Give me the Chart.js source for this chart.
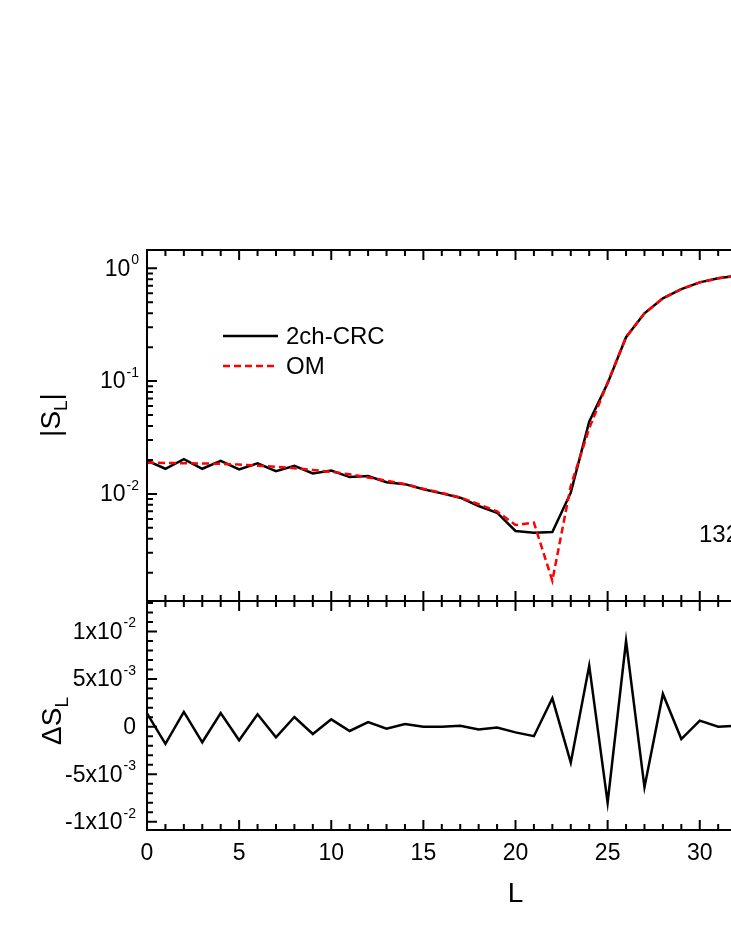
<!DOCTYPE html>
<html>
<head>
<meta charset="utf-8">
<script src="https://cdn.jsdelivr.net/npm/chart.js@4.4.1/dist/chart.umd.min.js"></script>
<style>
    html, body { margin: 0; padding: 0; background: #fff; overflow: hidden; }
    #wrap { width: 900px; height: 946px; }
</style>
</head>
<body>
<div id="wrap"><canvas id="grafico" width="900" height="946"></canvas></div>
<script>
// datos
let L = [0, 1, 2, 3, 4, 5, 6, 7, 8, 9, 10, 11, 12, 13, 14, 15, 16, 17, 18, 19, 20,
    21, 22, 23, 24, 25, 26, 27, 28, 29, 30, 31, 32, 33]
let crc = [0.0197, 0.0167, 0.0203, 0.0167, 0.0196, 0.0165, 0.0187, 0.0159, 0.0177, 0.0152, 0.0161,
    0.0141, 0.0144, 0.0127, 0.0122, 0.0110, 0.0101, 0.00925, 0.00781, 0.00681, 0.00469,
    0.00453, 0.00459, 0.01025, 0.0437, 0.0955, 0.245, 0.399, 0.542, 0.655, 0.751, 0.815, 0.86, 0.89]
let om = [0.0189, 0.0188, 0.0187, 0.0186, 0.0185, 0.0182, 0.0178, 0.0174, 0.0169, 0.0163, 0.0157,
    0.0149, 0.0140, 0.0131, 0.0122, 0.0111, 0.0102, 0.0093, 0.0081, 0.0070, 0.0053,
    0.00556, 0.0017, 0.0118, 0.038, 0.097, 0.245, 0.399, 0.542, 0.655, 0.751, 0.815, 0.86, 0.89]
let deltaS = [0.0014, -0.0018, 0.00155, -0.00164, 0.00144, -0.00143, 0.0013, -0.00112, 0.00102, -0.00077, 0.00077,
    -0.00045, 0.00049, -0.00021, 0.00028, 0, 0, 0.0001, -0.0003, -0.0001, -0.0006,
    -0.001, 0.00298, -0.00378, 0.00641, -0.00799, 0.0090, -0.00637, 0.00344, -0.0013, 0.00063, 0, 0.0001]

let ticksLog = [1, 0.1, 0.01]
let expLog = ['0', '-1', '-2']
let ticksDelta = [0.01, 0.005, 0, -0.005, -0.01]
let baseDelta = ['1x10', '5x10', '0', '-5x10', '-1x10']
let expDelta = ['-2', '-3', '', '-3', '-2']

const fuente = '"Liberation Sans", Arial, sans-serif'

function etiquetaPotencia(ctx, base, exp, xDer, yMed) {
    ctx.font = '23px ' + fuente
    let wBase = ctx.measureText(base).width
    ctx.font = '14px ' + fuente
    let wExp = exp ? ctx.measureText(exp).width + 1 : 0
    let x0 = xDer - wBase - wExp
    ctx.textAlign = 'left'
    ctx.textBaseline = 'middle'
    ctx.font = '23px ' + fuente
    ctx.fillText(base, x0, yMed)
    if (exp) {
        ctx.font = '14px ' + fuente
        ctx.fillText(exp, x0 + wBase + 1, yMed - 9)
    }
}

function tituloSub(ctx, antes, sub, despues, xBase, yCentro) {
    ctx.save()
    ctx.translate(xBase, yCentro)
    ctx.rotate(-Math.PI / 2)
    ctx.textBaseline = 'alphabetic'
    ctx.textAlign = 'left'
    ctx.font = '28px ' + fuente
    let w1 = ctx.measureText(antes).width
    let w3 = ctx.measureText(despues).width
    ctx.font = '19px ' + fuente
    let w2 = ctx.measureText(sub).width
    let x = -(w1 + w2 + w3) / 2
    ctx.font = '28px ' + fuente
    ctx.fillText(antes, x, 0)
    ctx.font = '19px ' + fuente
    ctx.fillText(sub, x + w1, 7)
    ctx.font = '28px ' + fuente
    ctx.fillText(despues, x + w1 + w2, 0)
    ctx.restore()
}

const ejes = {
    id: 'ejes',
    afterDraw(chart) {
        let ctx = chart.ctx
        let sx = chart.scales.x, sy = chart.scales.y, sd = chart.scales.y2
        ctx.save()
        ctx.strokeStyle = '#000'
        ctx.fillStyle = '#000'
        ctx.lineWidth = 2
        ctx.strokeRect(sx.left, sy.top, sx.right - sx.left, sy.bottom - sy.top)
        ctx.strokeRect(sx.left, sd.top, sx.right - sx.left, sd.bottom - sd.top)

        ctx.beginPath()
        for (let v = 0; v <= 40; v++) {
            let px = sx.getPixelForValue(v)
            let t = v % 5 === 0 ? 10 : 6
            ctx.moveTo(px, sy.top); ctx.lineTo(px, sy.top + t)
            ctx.moveTo(px, sy.bottom); ctx.lineTo(px, sy.bottom - t)
            ctx.moveTo(px, sd.top); ctx.lineTo(px, sd.top + t)
            ctx.moveTo(px, sd.bottom); ctx.lineTo(px, sd.bottom - t)
        }
        for (let d = -3; d <= 0; d++) {
            for (let m = 1; m <= 9; m++) {
                let v = m * Math.pow(10, d)
                if (v < sy.min || v > sy.max) continue
                let py = sy.getPixelForValue(v)
                ctx.moveTo(sx.left, py); ctx.lineTo(sx.left + (m === 1 ? 10 : 6), py)
            }
        }
        for (let k = -10; k <= 13; k++) {
            let py = sd.getPixelForValue(k * 0.001)
            ctx.moveTo(sx.left, py); ctx.lineTo(sx.left + (k % 5 === 0 ? 10 : 6), py)
        }
        ctx.stroke()

        for (let i = 0; i < ticksLog.length; i++) {
            etiquetaPotencia(ctx, '10', expLog[i], 139, sy.getPixelForValue(ticksLog[i]) + 1)
        }
        for (let i = 0; i < ticksDelta.length; i++) {
            etiquetaPotencia(ctx, baseDelta[i], expDelta[i], 136, sd.getPixelForValue(ticksDelta[i]) + 1)
        }

        tituloSub(ctx, '|S', 'L', '|', 60, 415)
        tituloSub(ctx, '\u0394S', 'L', '', 61, 721)

        // leyenda
        let filas = [336, 366]
        for (let i = 0; i < 2; i++) {
            let ds = chart.data.datasets[i]
            ctx.beginPath()
            ctx.strokeStyle = ds.borderColor
            ctx.lineWidth = ds.borderWidth
            ctx.setLineDash(ds.borderDash || [])
            ctx.moveTo(223, filas[i]); ctx.lineTo(278, filas[i])
            ctx.stroke()
            ctx.setLineDash([])
            ctx.font = '24px ' + fuente
            ctx.textAlign = 'left'
            ctx.textBaseline = 'middle'
            ctx.fillText(ds.label, 286, filas[i] + 1)
        }

        ctx.font = '24px ' + fuente
        ctx.textBaseline = 'alphabetic'
        ctx.fillText('132', 699, 542)
        ctx.restore()
    }
}

const lienzo = document.getElementById('grafico')

new Chart(lienzo, {
    type: 'line',
    data: {
        datasets: [
            {
                label: '2ch-CRC',
                data: L.map((l, i) => ({ x: l, y: crc[i] })),
                borderColor: '#000000',
                borderWidth: 2.5,
                pointRadius: 0,
                yAxisID: 'y',
                order: 2
            },
            {
                label: 'OM',
                data: L.map((l, i) => ({ x: l, y: om[i] })),
                borderColor: '#ff0000',
                borderWidth: 2.5,
                borderDash: [7, 4],
                pointRadius: 0,
                yAxisID: 'y',
                order: 1
            },
            {
                label: 'dS',
                data: deltaS.map((v, i) => ({ x: L[i], y: v })),
                borderColor: '#000000',
                borderWidth: 2.5,
                pointRadius: 0,
                yAxisID: 'y2',
                order: 3
            }
        ]
    },
    options: {
        responsive: false,
        animation: false,
        devicePixelRatio: 1,
        layout: { padding: { top: 250, right: 16, bottom: 0, left: 0 } },
        plugins: { legend: { display: false }, tooltip: { enabled: false } },
        scales: {
            x: {
                type: 'linear', min: 0, max: 40, position: 'bottom',
                grid: { display: false }, border: { display: false },
                ticks: {
                    stepSize: 1, autoSkip: false, maxRotation: 0, padding: 2, color: '#000',
                    font: { family: fuente, size: 23 },
                    callback: v => v % 5 === 0 ? v : ''
                },
                title: { display: true, text: 'L', color: '#000', font: { family: fuente, size: 28 }, padding: { top: 0, bottom: 35 } },
                afterFit: s => { s.height = 116 }
            },
            y: {
                type: 'logarithmic', min: 0.001123, max: 1.453, position: 'left',
                stack: 'paneles', stackWeight: 351, weight: 2,
                grid: { display: false }, border: { display: false }, ticks: { display: false },
                afterFit: s => { s.width = 147 }
            },
            y2: {
                type: 'linear', min: -0.01086, max: 0.01321, position: 'left',
                stack: 'paneles', stackWeight: 229, weight: 1,
                grid: { display: false }, border: { display: false }, ticks: { display: false },
                afterFit: s => { s.width = 147 }
            }
        }
    },
    plugins: [ejes]
})
</script>
</body>
</html>
